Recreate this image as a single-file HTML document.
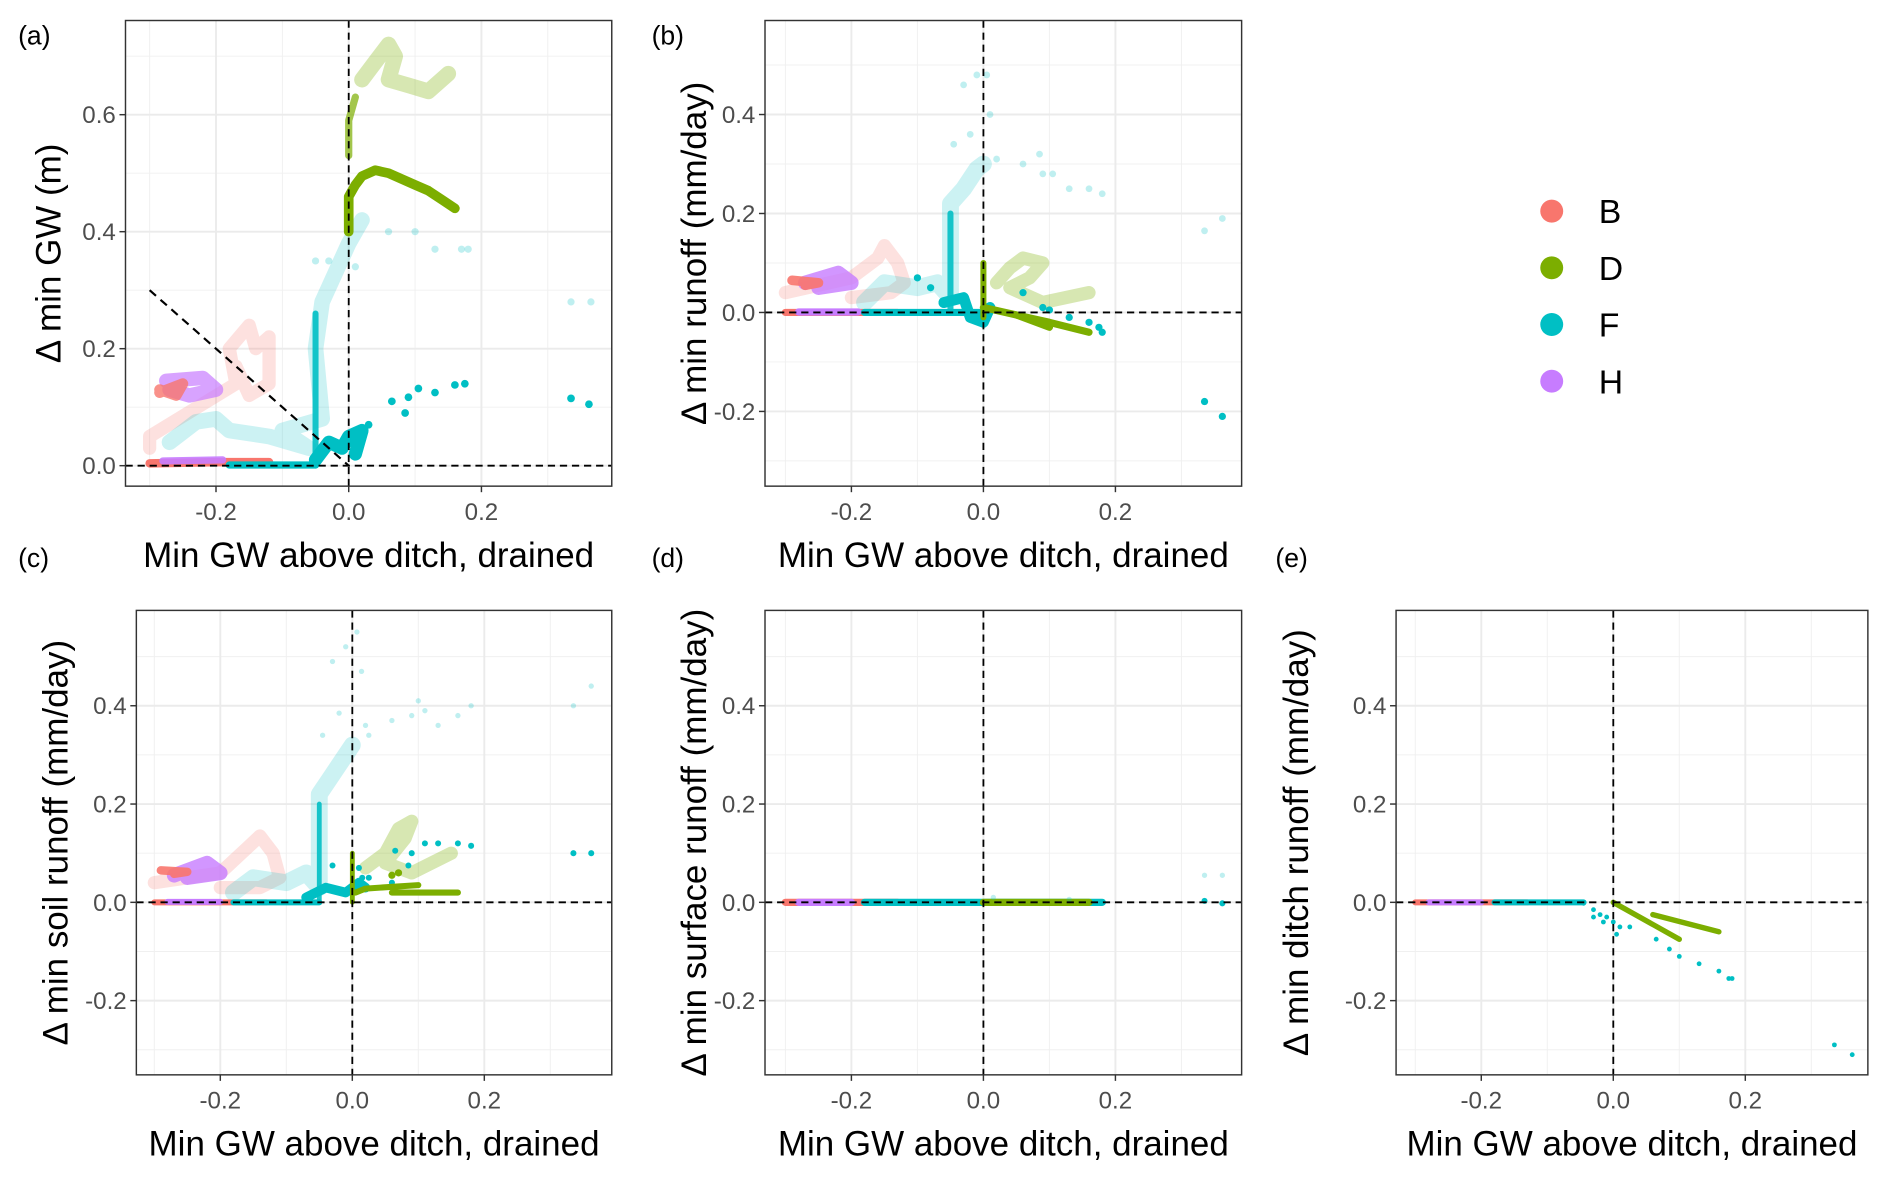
<!DOCTYPE html>
<html><head><meta charset="utf-8"><style>
html,body{margin:0;padding:0;background:#fff;}
svg{display:block;font-family:"Liberation Sans",Arial,sans-serif;}
</style></head><body>
<svg id="fig" width="1892" height="1181" viewBox="0 0 1568 979" preserveAspectRatio="none" xmlns="http://www.w3.org/2000/svg">
<rect x="0" y="0" width="1568" height="979" fill="#fff"/>
<g id="legend">
 <g><circle cx="1286" cy="175" r="9.5" fill="#F8766D"/><text x="1325" y="185" font-size="28">B</text></g>
 <g><circle cx="1286" cy="222" r="9.5" fill="#7CAE00"/><text x="1325" y="232" font-size="28">D</text></g>
 <g><circle cx="1286" cy="269" r="9.5" fill="#00BFC4"/><text x="1325" y="279" font-size="28">F</text></g>
 <g><circle cx="1286" cy="316" r="9.5" fill="#C77CFF"/><text x="1325" y="326" font-size="28">H</text></g>
</g>
</svg>
<script>
// ---------- data ----------
const seriesNames = ['B','D','F','H'];
const seriesColors = {B:'#F8766D', D:'#7CAE00', F:'#00BFC4', H:'#C77CFF'};
const xTicks = [-0.2, 0.0, 0.2];
const xTickLabels = ['-0.2','0.0','0.2'];
const xMinor = [-0.3,-0.1,0.1,0.3];
const yTicksA = [0,0.2,0.4,0.6];
const yTickLabelsA = ['0.0','0.2','0.4','0.6'];
const yMinorA = [0.1,0.3,0.5,0.7];
const yTicksR = [-0.2,0,0.2,0.4];
const yTickLabelsR = ['-0.2','0.0','0.2','0.4'];
const yMinorR = [-0.3,-0.1,0.1,0.3,0.5];
const diagA = [[-0.3,0.3],[0,0]];

// panel a
const a_B_zero = [[-0.3,0.004],[-0.2,0.006],[-0.12,0.006]];
const a_B_clu = [[-0.285,0.125],[-0.25,0.14],[-0.26,0.12],[-0.285,0.13]];
const a_B_fade = [[-0.3,0.03],[-0.3,0.05],[-0.17,0.14],[-0.18,0.2],[-0.15,0.24],[-0.14,0.2],[-0.12,0.22],[-0.12,0.14],[-0.15,0.12],[-0.17,0.17]];
const a_H_zero = [[-0.28,0.008],[-0.19,0.01]];
const a_H_clu = [[-0.275,0.145],[-0.22,0.15],[-0.2,0.13],[-0.24,0.12],[-0.27,0.13]];
const a_F_fade = [[-0.27,0.04],[-0.23,0.075],[-0.2,0.08],[-0.18,0.06],[-0.12,0.05],[-0.06,0.03],[-0.1,0.06],[-0.04,0.08],[-0.05,0.2],[-0.04,0.28],[-0.02,0.33],[0,0.38],[0.02,0.42]];
const a_F_pts = [[0.06,0.4],[0.1,0.4],[0.13,0.37],[0.17,0.37],[0.18,0.37],[0.335,0.28],[0.365,0.28],[-0.05,0.35],[-0.03,0.35],[0.01,0.34]];
const a_F_zero = [[-0.18,0.001],[-0.05,0.001]];
const a_F_vert = [[-0.05,0.0],[-0.05,0.26]];
const a_F_clu = [[-0.05,0.01],[-0.03,0.04],[-0.01,0.03],[0,0.05],[0.02,0.06],[0.01,0.02]];
const a_F_solid = [[0.065,0.11],[0.085,0.09],[0.09,0.117],[0.105,0.132],[0.13,0.125],[0.16,0.138],[0.175,0.14],[0.335,0.115],[0.362,0.105],[0.03,0.07]];
const a_D_low = [[0,0.4],[0,0.46],[0.01,0.48],[0.02,0.495],[0.04,0.505],[0.06,0.5],[0.08,0.49],[0.1,0.48],[0.12,0.47],[0.14,0.455],[0.16,0.44]];
const a_D_vert = [[0,0.53],[0,0.59],[0.01,0.63]];
const a_D_up = [[0.02,0.66],[0.04,0.69],[0.06,0.72],[0.07,0.7],[0.06,0.66],[0.09,0.65],[0.12,0.64],[0.15,0.67]];

// panel b
const b_B_zero = [[-0.3,0],[-0.13,0]];
const b_B_clu = [[-0.29,0.065],[-0.25,0.06],[-0.27,0.055]];
const b_B_fade = [[-0.3,0.04],[-0.2,0.07],[-0.16,0.11],[-0.15,0.135],[-0.13,0.1],[-0.12,0.06],[-0.14,0.04],[-0.2,0.03]];
const b_H_zero = [[-0.28,0.001],[-0.19,0.001]];
const b_H_clu = [[-0.27,0.06],[-0.22,0.08],[-0.2,0.06],[-0.25,0.05]];
const b_F_fade = [[-0.18,0.02],[-0.15,0.06],[-0.1,0.05],[-0.07,0.06],[-0.05,0.03],[-0.05,0.22],[-0.03,0.25],[-0.01,0.29],[0,0.3]];
const b_F_pts = [[-0.01,0.48],[0.005,0.48],[-0.03,0.46],[0.01,0.40],[-0.02,0.36],[-0.045,0.34],[0.02,0.31],[0.085,0.32],[0.06,0.30],[0.09,0.28],[0.105,0.28],[0.13,0.25],[0.16,0.25],[0.18,0.24],[0.335,0.165],[0.362,0.19]];
const b_F_zero = [[-0.18,0],[0,0]];
const b_F_vert = [[-0.05,0],[-0.05,0.2]];
const b_F_clu = [[-0.06,0.02],[-0.03,0.03],[-0.02,-0.01],[0,-0.02],[0.01,0.01]];
const b_F_solid = [[0.06,0.04],[0.09,0.01],[0.1,0.005],[0.13,-0.01],[0.16,-0.02],[0.175,-0.03],[0.18,-0.04],[0.335,-0.18],[0.362,-0.21],[-0.08,0.05],[-0.1,0.07]];
const b_D_vert = [[0,-0.01],[0,0.1]];
const b_D_l1 = [[0,0.01],[0.05,-0.005],[0.1,-0.03]];
const b_D_l2 = [[0.05,-0.005],[0.1,-0.02],[0.16,-0.04]];
const b_D_fade = [[0.02,0.06],[0.04,0.09],[0.06,0.11],[0.09,0.1],[0.07,0.07],[0.04,0.05],[0.09,0.02],[0.16,0.04]];

// panel c
const c_B_zero = [[-0.3,0],[-0.13,0]];
const c_B_clu = [[-0.29,0.065],[-0.25,0.062],[-0.27,0.058]];
const c_B_fade = [[-0.3,0.04],[-0.2,0.06],[-0.16,0.11],[-0.14,0.135],[-0.12,0.1],[-0.11,0.05],[-0.14,0.03],[-0.2,0.03]];
const c_H_zero = [[-0.28,0.001],[-0.2,0.001]];
const c_H_clu = [[-0.27,0.055],[-0.22,0.08],[-0.2,0.06],[-0.25,0.05]];
const c_F_fade = [[-0.18,0.02],[-0.15,0.05],[-0.1,0.04],[-0.07,0.06],[-0.05,0.03],[-0.05,0.22],[-0.03,0.26],[-0.01,0.3],[0,0.32]];
const c_F_pts = [[-0.03,0.49],[-0.01,0.52],[0.007,0.55],[0.014,0.47],[-0.02,0.385],[0.02,0.36],[-0.045,0.34],[0.025,0.34],[0.06,0.37],[0.09,0.38],[0.1,0.41],[0.11,0.39],[0.13,0.36],[0.16,0.38],[0.18,0.40],[0.335,0.40],[0.362,0.44]];
const c_F_zero = [[-0.18,0],[-0.05,0]];
const c_F_vert = [[-0.05,0],[-0.05,0.2]];
const c_F_clu = [[-0.07,0.01],[-0.04,0.03],[-0.01,0.02],[0.01,0.04],[0.02,0.03]];
const c_F_solid = [[-0.03,0.075],[0.01,0.07],[0.015,0.05],[0.025,0.05],[0.065,0.105],[0.09,0.1],[0.085,0.075],[0.11,0.12],[0.13,0.12],[0.16,0.12],[0.18,0.115],[0.335,0.1],[0.362,0.1],[0.06,0.04]];
const c_D_vert = [[0,0],[0,0.1]];
const c_D_l1 = [[0.005,0.02],[0.02,0.028],[0.1,0.035]];
const c_D_l2 = [[0.06,0.02],[0.16,0.02]];
const c_D_pts = [[0.06,0.055],[0.07,0.06]];
const c_D_fade = [[0.02,0.07],[0.05,0.1],[0.07,0.15],[0.09,0.165],[0.08,0.13],[0.05,0.08],[0.09,0.06],[0.15,0.1]];

// panel d
const d_B_zero = [[-0.3,0],[-0.13,0]];
const d_H_zero = [[-0.28,0],[-0.2,0]];
const d_F_zero = [[-0.18,0],[0.18,0]];
const d_D_zero = [[0,0],[0.16,0]];
const d_F_fade = [[0.015,0.01],[0.13,0.006],[0.335,0.055],[0.362,0.055]];
const d_F_solid = [[0.335,0.003],[0.362,-0.002]];

// panel e
const e_B_zero = [[-0.3,0],[-0.13,0]];
const e_H_zero = [[-0.28,0],[-0.2,0]];
const e_F_zero = [[-0.18,0],[-0.045,0]];
const e_F_solid = [[-0.045,-0.002],[-0.03,-0.015],[-0.02,-0.025],[-0.01,-0.03],[0,-0.04],[0.01,-0.05],[0.005,-0.065],[0.025,-0.05],[0.065,-0.075],[0.085,-0.095],[0.1,-0.11],[0.13,-0.125],[0.16,-0.14],[0.175,-0.155],[0.18,-0.155],[0.335,-0.29],[0.362,-0.31],[-0.03,-0.03],[-0.015,-0.04]];
const e_D_l1 = [[0,0],[0.1,-0.075]];
const e_D_l2 = [[0.06,-0.025],[0.16,-0.06]];

// ---------- layout ----------
const panels = {
 a:{box:[104,17,507,403], xd:[-0.3364,0.3964], yd:[-0.035,0.761], yt:yTicksA, ytl:yTickLabelsA, ym:yMinorA, tag:[15,37,'(a)'], title:'Δ min GW (m)', tx:40},
 b:{box:[634,17,1029,403], xd:[-0.3309,0.3912], yd:[-0.351,0.590], yt:yTicksR, ytl:yTickLabelsR, ym:yMinorR, tag:[540,37,'(b)'], title:'Δ min runoff (mm/day)', tx:575},
 c:{box:[113,506,507,891], xd:[-0.3272,0.3931], yd:[-0.351,0.594], yt:yTicksR, ytl:yTickLabelsR, ym:yMinorR, tag:[15,470,'(c)'], title:'Δ min soil runoff (mm/day)', tx:46},
 d:{box:[634,506,1029,891], xd:[-0.3309,0.3912], yd:[-0.351,0.594], yt:yTicksR, ytl:yTickLabelsR, ym:yMinorR, tag:[540,470,'(d)'], title:'Δ min surface runoff (mm/day)', tx:575},
 e:{box:[1157,506,1548,891], xd:[-0.3291,0.3857], yd:[-0.351,0.594], yt:yTicksR, ytl:yTickLabelsR, ym:yMinorR, tag:[1057,470,'(e)'], title:'Δ min ditch runoff (mm/day)', tx:1074}
};
// traces: [panel, series, data, kind, alpha, size]
const traces = [
 ['a','B',a_B_fade,'line',0.22,11],['a','F',a_F_fade,'line',0.2,13],['a','F',a_F_pts,'dots',0.25,3],
 ['a','D',a_D_up,'line',0.3,13],['a','D',a_D_vert,'line',0.7,6],
 ['a','H',a_H_clu,'line',0.7,12],['a','B',a_B_clu,'line',0.8,9],
 ['a','B',a_B_zero,'line',1,7],['a','H',a_H_zero,'line',0.9,6],['a','F',a_F_zero,'line',1,6],
 ['a','F',a_F_vert,'line',0.9,5],['a','F',a_F_clu,'line',1,11],['a','F',a_F_solid,'dots',1,3.2],
 ['a','D',a_D_low,'line',1,8],
 ['b','B',b_B_fade,'line',0.22,11],['b','F',b_F_fade,'line',0.2,14],['b','F',b_F_pts,'dots',0.25,2.8],
 ['b','D',b_D_fade,'line',0.3,11],['b','H',b_H_clu,'line',0.8,12],['b','B',b_B_clu,'line',0.9,8],
 ['b','B',b_B_zero,'line',1,6],['b','H',b_H_zero,'line',1,6],['b','F',b_F_zero,'line',1,6],
 ['b','F',b_F_vert,'line',0.9,5],['b','F',b_F_clu,'line',1,9],['b','F',b_F_solid,'dots',1,3],
 ['b','D',b_D_vert,'line',1,5],['b','D',b_D_l1,'line',1,6],['b','D',b_D_l2,'line',1,6],
 ['c','B',c_B_fade,'line',0.22,11],['c','F',c_F_fade,'line',0.2,14],['c','F',c_F_pts,'dots',0.25,2.2],
 ['c','D',c_D_fade,'line',0.3,11],['c','H',c_H_clu,'line',0.8,12],['c','B',c_B_clu,'line',0.9,7],
 ['c','B',c_B_zero,'line',1,5],['c','H',c_H_zero,'line',1,5],['c','F',c_F_zero,'line',1,5],
 ['c','F',c_F_vert,'line',0.9,4],['c','F',c_F_clu,'line',1,8],['c','F',c_F_solid,'dots',1,2.5],
 ['c','D',c_D_vert,'line',1,4],['c','D',c_D_l1,'line',1,5],['c','D',c_D_l2,'line',1,5],['c','D',c_D_pts,'dots',1,3],
 ['d','B',d_B_zero,'line',1,6],['d','H',d_H_zero,'line',1,6],['d','F',d_F_zero,'line',1,6],['d','D',d_D_zero,'line',1,6],
 ['d','F',d_F_fade,'dots',0.25,2.2],['d','F',d_F_solid,'dots',1,2.5],
 ['e','B',e_B_zero,'line',1,5],['e','H',e_H_zero,'line',1,5],['e','F',e_F_zero,'line',1,5],
 ['e','F',e_F_solid,'dots',1,2],['e','D',e_D_l1,'line',1,4.5],['e','D',e_D_l2,'line',1,4.5]
];

const NS='http://www.w3.org/2000/svg';
const svg=document.getElementById('fig');
function mk(tag,attrs,parent){const e=document.createElementNS(NS,tag);for(const k in attrs)e.setAttribute(k,attrs[k]);(parent||svg).appendChild(e);return e;}
function sx(p,v){const b=p.box;return b[0]+(v-p.xd[0])/(p.xd[1]-p.xd[0])*(b[2]-b[0]);}
function sy(p,v){const b=p.box;return b[3]-(v-p.yd[0])/(p.yd[1]-p.yd[0])*(b[3]-b[1]);}

for(const key in panels){
 const p=panels[key],b=p.box;
 const g=mk('g',{});
 
 
 const clipId='clip'+key;
 const cp=mk('clipPath',{id:clipId},g);mk('rect',{x:b[0],y:b[1],width:b[2]-b[0],height:b[3]-b[1]},cp);
 const bg=mk('rect',{x:b[0],y:b[1],width:b[2]-b[0],height:b[3]-b[1],fill:'#fff'},g);
 
 
 xMinor.forEach(v=>{const x=sx(p,v);mk('line',{x1:x,x2:x,y1:b[1],y2:b[3],stroke:'#f0f0f0','stroke-width':0.8},g);});
 p.ym.forEach(v=>{const y=sy(p,v);if(y>b[1]&&y<b[3])mk('line',{x1:b[0],x2:b[2],y1:y,y2:y,stroke:'#f0f0f0','stroke-width':0.8},g);});
 xTicks.forEach(v=>{const x=sx(p,v);const l=mk('line',{x1:x,x2:x,y1:b[1],y2:b[3],stroke:'#ebebeb','stroke-width':1.6},g);
   
   });
 p.yt.forEach(v=>{const y=sy(p,v);const l=mk('line',{x1:b[0],x2:b[2],y1:y,y2:y,stroke:'#ebebeb','stroke-width':1.6},g);
   
   });
 const dg=mk('g',{'clip-path':'url(#'+clipId+')'},g);
 
 
 traces.filter(t=>t[0]===key).forEach(t=>{
  const col=seriesColors[t[1]];
  if(t[3]==='line'){
   const pts=t[2].map(d=>sx(p,d[0]).toFixed(1)+','+sy(p,d[1]).toFixed(1)).join(' ');
   const pl=mk('polyline',{points:pts,fill:'none',stroke:col,'stroke-width':t[5],'stroke-linecap':'round','stroke-linejoin':'round','stroke-opacity':t[4]},dg);
   
   
  } else {
   t[2].forEach(d=>{const c=mk('circle',{cx:sx(p,d[0]),cy:sy(p,d[1]),r:t[5],fill:col,'fill-opacity':t[4]},dg);
    
    });
  }
 });
 const rg=mk('g',{'clip-path':'url(#'+clipId+')'},g);
 const y0=sy(p,0),x0=sx(p,0);
 const h=mk('line',{x1:b[0],x2:b[2],y1:y0,y2:y0,stroke:'#000','stroke-width':1.5,'stroke-dasharray':'6 4'},rg);
 
 
 const v=mk('line',{x1:x0,x2:x0,y1:b[1],y2:b[3],stroke:'#000','stroke-width':1.5,'stroke-dasharray':'6 4'},rg);
 
 
 if(key==='a'){
  const dl=mk('line',{x1:sx(p,diagA[0][0]),y1:sy(p,diagA[0][1]),x2:sx(p,diagA[1][0]),y2:sy(p,diagA[1][1]),stroke:'#000','stroke-width':1.8,'stroke-dasharray':'7 5'},rg);
  
  
 }
 const fr=mk('rect',{x:b[0],y:b[1],width:b[2]-b[0],height:b[3]-b[1],fill:'none',stroke:'#333','stroke-width':1.2},g);
 
 
 xTicks.forEach((v,i)=>{const x=sx(p,v);mk('line',{x1:x,x2:x,y1:b[3],y2:b[3]+5,stroke:'#333','stroke-width':1.2},g);
  const t=mk('text',{x:x,y:b[3]+28,'text-anchor':'middle','font-size':20,fill:'#4d4d4d'},g);t.textContent=xTickLabels[i];
  
  });
 p.yt.forEach((v,i)=>{const y=sy(p,v);mk('line',{x1:b[0]-5,x2:b[0],y1:y,y2:y,stroke:'#333','stroke-width':1.2},g);
  const t=mk('text',{x:b[0]-8,y:y+7,'text-anchor':'end','font-size':20,fill:'#4d4d4d'},g);t.textContent=p.ytl[i];
  
  });
 const xt=mk('text',{x:(b[0]+b[2])/2,y:b[3]+67,'text-anchor':'middle','font-size':29,fill:'#000'},g);
 xt.textContent='Min GW above ditch, drained';
 
 
 const cy=(b[1]+b[3])/2;
 const yt=mk('text',{x:0,y:0,transform:'translate('+(p.tx+10)+','+cy+') rotate(-90)','text-anchor':'middle','font-size':29,fill:'#000'},g);
 yt.textContent=p.title;
 
 
 const tg=mk('text',{x:p.tag[0],y:p.tag[1],'font-size':22,fill:'#000'},g);
 tg.textContent=p.tag[2];
 
 
}
</script>
</body></html>
